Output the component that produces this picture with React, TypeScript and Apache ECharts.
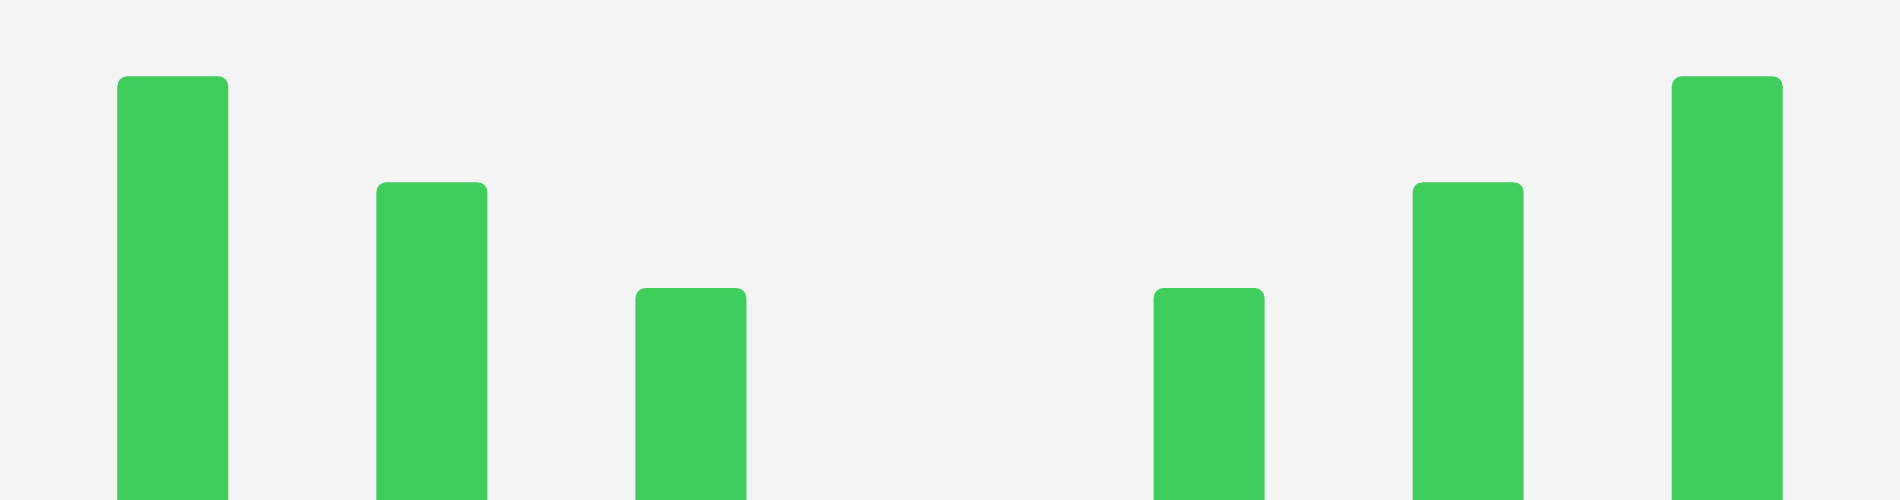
import React, { useEffect, useRef } from "react";
import * as echarts from "echarts";

const categories = ["A", "B", "C", "D", "E", "F", "G"];
const values = [100, 75, 50, 0, 50, 75, 100];

export default function App() {
  const ref = useRef<HTMLDivElement>(null);
  useEffect(() => {
    if (!ref.current) return;
    const chart = echarts.init(ref.current, undefined, { renderer: "svg" });
    chart.setOption({
      animation: false,
      backgroundColor: "#f4f4f4",
      grid: { left: 43.25, right: 43.25, top: 76.2, bottom: -26.2, containLabel: false },
      xAxis: { type: "category", data: categories, show: false },
      yAxis: { type: "value", min: 0, max: 100, show: false, splitLine: { show: false } },
      series: [
        {
          type: "bar",
          data: values,
          barWidth: 111,
          itemStyle: { color: "#3fce5b", borderRadius: [10, 10, 0, 0] },
        },
      ],
    });
    return () => chart.dispose();
  }, []);
  return (
    <div ref={ref} style={{ position: "fixed", left: 0, top: 0, width: 1900, height: 500 }} />
  );
}
